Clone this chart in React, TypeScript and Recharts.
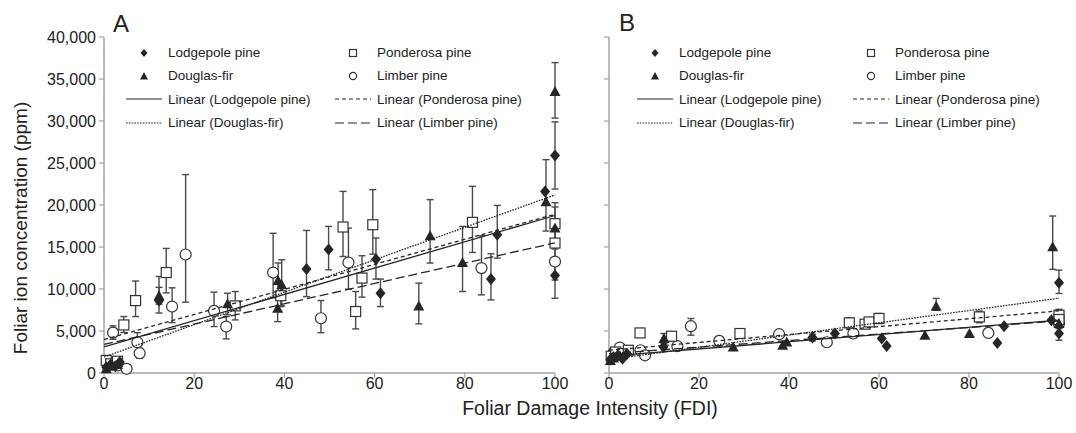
import React from 'react';
import { ScatterChart, Scatter, XAxis, YAxis, ErrorBar, Legend } from 'recharts';

type Pt = { x: number; y: number; e?: number | [number, number] };

const FDI_TICKS = [0, 20, 40, 60, 80, 100];
const ION_TICKS = [0, 5000, 10000, 15000, 20000, 25000, 30000, 35000, 40000];

// ---------- Panel A ----------
const A_LODGEPOLE: Pt[] = [
  { x: 0.5, y: 690, e: 300 }, { x: 1.5, y: 1000 }, { x: 2.5, y: 800 }, { x: 3.5, y: 1300 },
  { x: 12.2, y: 8600, e: [1460, 2890] }, { x: 44.9, y: 12370, e: [3275, 4600] },
  { x: 49.8, y: 14700, e: [2420, 2750] }, { x: 60.3, y: 13550, e: [2370, 2520] },
  { x: 61.3, y: 9500, e: [1590, 1680] }, { x: 85.8, y: 11180, e: [2480, 3010] },
  { x: 87.2, y: 16460, e: [2780, 3490] }, { x: 97.8, y: 21600 },
  { x: 100, y: 25900, e: [4000, 4000] }, { x: 100, y: 11600, e: [2700, 2000] },
];
const A_DOUGLAS: Pt[] = [
  { x: 0.5, y: 500 }, { x: 1.5, y: 800 }, { x: 3, y: 1000 },
  { x: 12.2, y: 9200, e: 1000 }, { x: 27.4, y: 8230, e: [1300, 1270] },
  { x: 38.6, y: 11010, e: [2000, 2090] }, { x: 39.4, y: 10500, e: [2500, 2980] },
  { x: 38.5, y: 7720, e: 1600 }, { x: 69.8, y: 7990, e: [2140, 2710] },
  { x: 72.3, y: 16340, e: [3250, 4300] }, { x: 79.5, y: 13150, e: [3450, 4300] },
  { x: 98, y: 20400, e: [3500, 5000] }, { x: 100, y: 33500, e: [3150, 3450] },
  { x: 100, y: 17260, e: 2500 },
];
const A_PONDEROSA: Pt[] = [
  { x: 0.5, y: 1500 }, { x: 1.5, y: 1100 }, { x: 3, y: 1400 },
  { x: 4.4, y: 5720, e: [900, 1000] }, { x: 7, y: 8620, e: [1900, 2330] },
  { x: 13.8, y: 11960, e: [2420, 2870] }, { x: 29.1, y: 7990, e: [1670, 1710] },
  { x: 39.2, y: 9200, e: 1300 }, { x: 53, y: 17380, e: [3510, 4240] },
  { x: 55.8, y: 7320, e: [2070, 2380] }, { x: 57.2, y: 11300, e: [2270, 2660] },
  { x: 59.6, y: 17650, e: [3500, 4180] }, { x: 81.7, y: 17930, e: [3580, 4290] },
  { x: 100, y: 17770, e: [2000, 2500] }, { x: 100, y: 15470, e: 2500 },
];
const A_LIMBER: Pt[] = [
  { x: 0.8, y: 1100 }, { x: 3, y: 900 }, { x: 5, y: 500 },
  { x: 2.0, y: 4810, e: 800 }, { x: 7.4, y: 3660, e: [1100, 1140] },
  { x: 7.9, y: 2350, e: 600 }, { x: 15.1, y: 7910, e: [1910, 2230] },
  { x: 18.1, y: 14110, e: [5680, 9510] }, { x: 24.4, y: 7390, e: [1860, 2230] },
  { x: 27.1, y: 5530, e: [1470, 1190] }, { x: 37.5, y: 11960, e: [3000, 4670] },
  { x: 48.1, y: 6520, e: [1720, 2110] }, { x: 54.2, y: 13150, e: [3170, 4100] },
  { x: 83.7, y: 12490, e: [3190, 3850] }, { x: 100, y: 13270, e: [2200, 2500] },
];
const A_FIT_LODGEPOLE = [{ x: 0, y: 3100 }, { x: 100, y: 18750 }];
const A_FIT_PONDEROSA = [{ x: 0, y: 3985 }, { x: 100, y: 18900 }];
const A_FIT_DOUGLAS = [{ x: 0, y: 1900 }, { x: 100, y: 21200 }];
const A_FIT_LIMBER = [{ x: 0, y: 3400 }, { x: 100, y: 15500 }];

// ---------- Panel B ----------
const B_LODGEPOLE: Pt[] = [
  { x: 0.3, y: 1600 }, { x: 1, y: 1900 }, { x: 2, y: 2100 }, { x: 3, y: 1700 }, { x: 4, y: 2300 },
  { x: 12.1, y: 3100 }, { x: 45.2, y: 4220, e: 400 }, { x: 50.2, y: 4700 },
  { x: 60.6, y: 4100 }, { x: 61.7, y: 3220 }, { x: 86.3, y: 3580 }, { x: 87.8, y: 5570 },
  { x: 98.3, y: 6290 }, { x: 100, y: 10740, e: [1270, 1510] }, { x: 100, y: 4700, e: [800, 600] },
];
const B_DOUGLAS: Pt[] = [
  { x: 0.3, y: 1500 }, { x: 1, y: 1800 }, { x: 2.5, y: 2000 },
  { x: 12.2, y: 4100, e: 600 }, { x: 27.6, y: 3100 }, { x: 38.6, y: 3300 }, { x: 39.5, y: 3700 },
  { x: 70.2, y: 4500 }, { x: 72.7, y: 7960, e: [480, 920] }, { x: 80.1, y: 4700 },
  { x: 98.6, y: 15030, e: [2690, 3660] }, { x: 100, y: 5890 },
];
const B_PONDEROSA: Pt[] = [
  { x: 0.5, y: 2000 }, { x: 1.5, y: 2500 }, { x: 3, y: 2300 },
  { x: 4.3, y: 2710, e: 400 }, { x: 6.9, y: 4770, e: 500 }, { x: 13.9, y: 4380, e: 500 },
  { x: 29.1, y: 4700, e: 500 }, { x: 53.4, y: 5970, e: 600 }, { x: 56.9, y: 5810 },
  { x: 57.8, y: 6080, e: 500 }, { x: 60, y: 6490, e: 600 }, { x: 82.3, y: 6680, e: 700 },
  { x: 100, y: 6880, e: 700 }, { x: 100, y: 6370 },
];
const B_LIMBER: Pt[] = [
  { x: 1, y: 2400 }, { x: 4, y: 2600 }, { x: 2.4, y: 3030 }, { x: 7, y: 2710 },
  { x: 8, y: 2110, e: 400 }, { x: 15.2, y: 3190, e: 400 }, { x: 18.2, y: 5570, e: [1070, 920] },
  { x: 24.5, y: 3820, e: 400 }, { x: 37.8, y: 4620, e: 400 }, { x: 48.4, y: 3660, e: 400 },
  { x: 54.3, y: 4700, e: 500 }, { x: 84.3, y: 4770, e: 500 }, { x: 100, y: 5900 },
];
const B_FIT_LODGEPOLE = [{ x: 0, y: 2000 }, { x: 100, y: 6300 }];
const B_FIT_PONDEROSA = [{ x: 0, y: 2700 }, { x: 100, y: 7400 }];
const B_FIT_DOUGLAS = [{ x: 0, y: 1600 }, { x: 100, y: 8900 }];
const B_FIT_LIMBER = [{ x: 0, y: 2300 }, { x: 100, y: 6200 }];

const LEGEND_ITEMS = [
  { label: 'Lodgepole pine', kind: 'diamond' },
  { label: 'Ponderosa pine', kind: 'square' },
  { label: 'Douglas-fir', kind: 'triangle' },
  { label: 'Limber pine', kind: 'circle' },
  { label: 'Linear (Lodgepole pine)', kind: 'solid' },
  { label: 'Linear (Ponderosa pine)', kind: 'dashed' },
  { label: 'Linear (Douglas-fir)', kind: 'dotted' },
  { label: 'Linear (Limber pine)', kind: 'longdash' },
];

const INK = '#262626';
const AXIS = '#a3a3a3';
const TEXT = '#222';
const FONT = '"Liberation Sans", Arial, Helvetica, sans-serif';
const DASH: Record<string, string | undefined> = {
  solid: undefined,
  dashed: '4 3',
  dotted: '1.6 1.2',
  longdash: '9 4',
};

const Diamond = (p: any) => (
  <path d={`M${p.cx},${p.cy - 6} L${p.cx + 5},${p.cy} L${p.cx},${p.cy + 6} L${p.cx - 5},${p.cy} Z`} fill={INK} />
);
const Triangle = (p: any) => (
  <path d={`M${p.cx},${p.cy - 5.5} L${p.cx + 5.5},${p.cy + 4.5} L${p.cx - 5.5},${p.cy + 4.5} Z`} fill={INK} />
);
const Square = (p: any) => (
  <rect x={p.cx - 5} y={p.cy - 5} width={10} height={10} fill="#fff" stroke="#333" strokeWidth={1.2} />
);
const Circle = (p: any) => <circle cx={p.cx} cy={p.cy} r={5.5} fill="#fff" stroke="#333" strokeWidth={1.2} />;
const NoDot = () => <g />;

function LegendIcon({ kind }: { kind: string }) {
  let el: React.ReactNode = null;
  if (kind === 'diamond') el = <path d="M20,3 L23.5,7 L20,11 L16.5,7 Z" fill={INK} />;
  else if (kind === 'triangle') el = <path d="M20,3 L24,10.5 L16,10.5 Z" fill={INK} />;
  else if (kind === 'square') el = <rect x={16.5} y={3.5} width={7} height={7} fill="#fff" stroke="#333" strokeWidth={1.2} />;
  else if (kind === 'circle') el = <circle cx={20} cy={7} r={3.6} fill="#fff" stroke="#333" strokeWidth={1.2} />;
  else el = <line x1={2} y1={7} x2={38} y2={7} stroke={INK} strokeWidth={1.2} strokeDasharray={DASH[kind]} />;
  return (
    <svg width={40} height={14} style={{ display: 'block', flex: 'none' }}>
      {el}
    </svg>
  );
}

function makeLegend(colW: number) {
  return () => (
    <div
      style={{
        display: 'grid',
        gridTemplateColumns: `${colW}px ${colW}px`,
        fontFamily: FONT,
        fontSize: 13.5,
        color: TEXT,
      }}
    >
      {LEGEND_ITEMS.map((it) => (
        <div key={it.label} style={{ display: 'flex', alignItems: 'center', height: 23.33, whiteSpace: 'nowrap' }}>
          <LegendIcon kind={it.kind} />
          <span style={{ marginLeft: 4 }}>{it.label}</span>
        </div>
      ))}
    </div>
  );
}

type PanelProps = {
  width: number;
  marginLeft: number;
  marginRight: number;
  yWidth: number;
  showYLabels: boolean;
  lodgepole: Pt[];
  douglas: Pt[];
  ponderosa: Pt[];
  limber: Pt[];
  fits: { lodgepole: any[]; ponderosa: any[]; douglas: any[]; limber: any[] };
  legendLeft: number;
  colW: number;
};

function Panel(p: PanelProps) {
  const eb = <ErrorBar dataKey="e" direction="y" width={3.5} stroke="#4a4a4a" strokeWidth={1.4} />;
  return (
    <ScatterChart
      width={p.width}
      height={433}
      margin={{ top: 37, right: p.marginRight, bottom: 30, left: p.marginLeft }}
    >
      <XAxis
        dataKey="x"
        type="number"
        domain={[0, 100]}
        ticks={FDI_TICKS}
        interval={0}
        height={30}
        tickSize={5}
        tickMargin={0}
        axisLine={{ stroke: AXIS, strokeWidth: 1.5 }}
        tickLine={{ stroke: AXIS, strokeWidth: 1.2 }}
        tick={{ fill: TEXT, fontSize: 16, fontFamily: FONT }}
      />
      <YAxis
        dataKey="y"
        type="number"
        domain={[0, 40000]}
        ticks={ION_TICKS}
        interval={0}
        width={p.yWidth}
        tickSize={5}
        tickMargin={3}
        axisLine={{ stroke: AXIS, strokeWidth: 1.5 }}
        tickLine={{ stroke: AXIS, strokeWidth: 1.2 }}
        tick={{ fill: TEXT, fontSize: 16, fontFamily: FONT }}
        tickFormatter={(v: number) => (p.showYLabels ? v.toLocaleString('en-US') : '')}
      />
      <Legend
        layout="vertical"
        align="center"
        verticalAlign="middle"
        content={makeLegend(p.colW)}
        wrapperStyle={{ left: p.legendLeft, top: 41, width: p.colW * 2 }}
      />
      <Scatter data={p.limber} shape={Circle} isAnimationActive={false}>{eb}</Scatter>
      <Scatter data={p.ponderosa} shape={Square} isAnimationActive={false}>{eb}</Scatter>
      <Scatter data={p.douglas} shape={Triangle} isAnimationActive={false}>{eb}</Scatter>
      <Scatter data={p.lodgepole} shape={Diamond} isAnimationActive={false}>{eb}</Scatter>
      <Scatter data={p.fits.lodgepole} shape={NoDot} line={{ stroke: INK, strokeWidth: 1.3 }} lineType="joint" isAnimationActive={false} />
      <Scatter data={p.fits.ponderosa} shape={NoDot} line={{ stroke: INK, strokeWidth: 1.3, strokeDasharray: DASH.dashed }} lineType="joint" isAnimationActive={false} />
      <Scatter data={p.fits.douglas} shape={NoDot} line={{ stroke: INK, strokeWidth: 1.3, strokeDasharray: DASH.dotted }} lineType="joint" isAnimationActive={false} />
      <Scatter data={p.fits.limber} shape={NoDot} line={{ stroke: INK, strokeWidth: 1.3, strokeDasharray: DASH.longdash }} lineType="joint" isAnimationActive={false} />
    </ScatterChart>
  );
}

export default function App() {
  return (
    <div style={{ position: 'absolute', left: 0, top: 0, width: 1076, height: 433, background: '#fff', fontFamily: FONT }}>
      <div style={{ position: 'absolute', left: 0, top: 0 }}>
        <Panel
          width={575}
          marginLeft={44}
          marginRight={20}
          yWidth={60}
          showYLabels
          lodgepole={A_LODGEPOLE}
          douglas={A_DOUGLAS}
          ponderosa={A_PONDEROSA}
          limber={A_LIMBER}
          fits={{ lodgepole: A_FIT_LODGEPOLE, ponderosa: A_FIT_PONDEROSA, douglas: A_FIT_DOUGLAS, limber: A_FIT_LIMBER }}
          legendLeft={124}
          colW={209}
        />
      </div>
      <div style={{ position: 'absolute', left: 575, top: 0 }}>
        <Panel
          width={501}
          marginLeft={24}
          marginRight={17}
          yWidth={10}
          showYLabels={false}
          lodgepole={B_LODGEPOLE}
          douglas={B_DOUGLAS}
          ponderosa={B_PONDEROSA}
          limber={B_LIMBER}
          fits={{ lodgepole: B_FIT_LODGEPOLE, ponderosa: B_FIT_PONDEROSA, douglas: B_FIT_DOUGLAS, limber: B_FIT_LIMBER }}
          legendLeft={60}
          colW={216}
        />
      </div>
      <svg width={1076} height={433} style={{ position: 'absolute', left: 0, top: 0, pointerEvents: 'none' }}>
        <text x={113} y={32} fontSize={24} fill={TEXT} fontFamily={FONT}>A</text>
        <text x={619} y={31} fontSize={24} fill={TEXT} fontFamily={FONT}>B</text>
        <text
          x={0}
          y={0}
          transform="translate(27,228) rotate(-90)"
          textAnchor="middle"
          fontSize={19}
          fill={TEXT}
          fontFamily={FONT}
        >
          Foliar ion concentration (ppm)
        </text>
        <text x={590} y={415} textAnchor="middle" fontSize={19.5} fill={TEXT} fontFamily={FONT}>
          Foliar Damage Intensity (FDI)
        </text>
      </svg>
    </div>
  );
}
